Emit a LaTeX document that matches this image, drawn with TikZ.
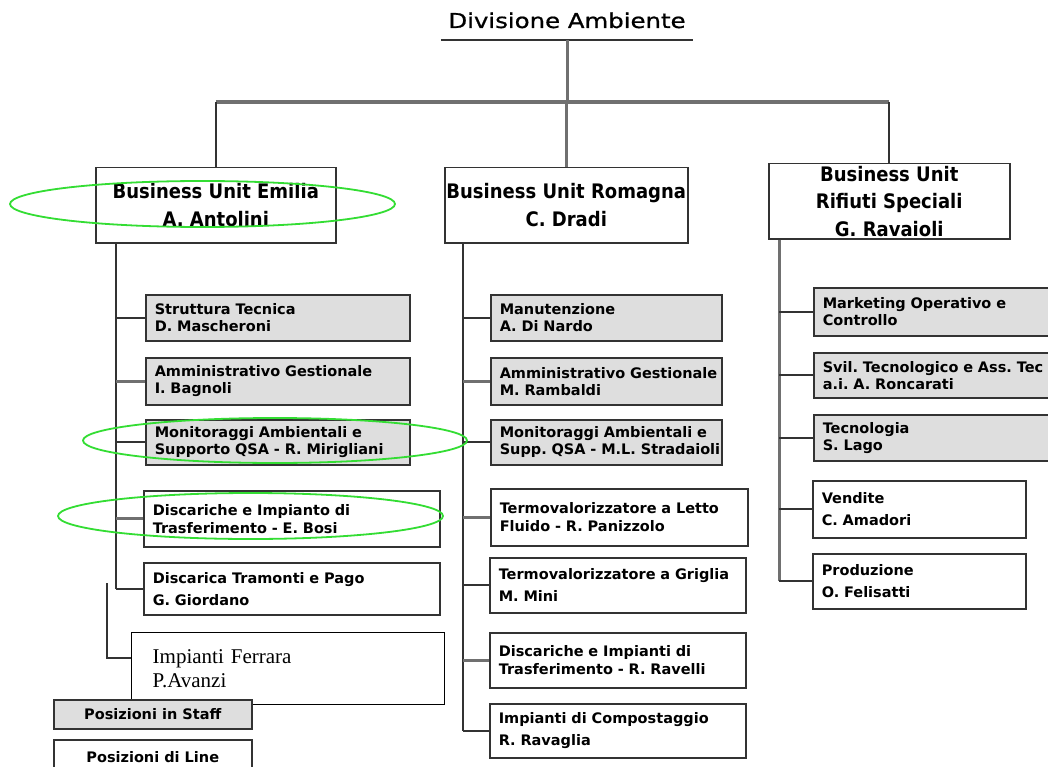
\documentclass[tikz,border=0pt]{standalone}
\usepackage{fontspec}
\usetikzlibrary{shadows}
\newfontfamily\dv{DejaVu Sans}
\newfontfamily\dvwide[FakeStretch=1.19,FakeBold=0.8]{DejaVu Sans}
\newfontfamily\dvnarrow[FakeStretch=0.9]{DejaVu Sans}
\newfontfamily\tms{Liberation Serif}
\newcommand\nbx[1]{\mbox{#1}}
\frenchspacing
\definecolor{bord}{HTML}{333333}
\definecolor{shad}{HTML}{6A6A6A}
\definecolor{stfill}{HTML}{DEDEDE}
\definecolor{lgray}{HTML}{707070}
\definecolor{hlgreen}{HTML}{33DD33}
\newcommand\obox[7]{\pgfmathsetmacro\tw{#5-18}\node[#2, minimum width=#5pt, minimum height=#6pt, text width=\tw pt] (#1) at (#3,#4) {#7};}
\begin{document}
\begin{tikzpicture}[x=1pt,y=-1pt,
  shd/.style={drop shadow={shadow xshift=1.6pt, shadow yshift=-1.6pt, fill=shad, opacity=1}},
  bx/.style={rectangle, draw=bord, line width=1.5pt, anchor=north west, inner xsep=9pt, inner ysep=0pt, align=left, shd},
  stf/.style={bx, fill=stfill, font=\dv\bfseries\fontsize{14.5}{17}\selectfont},
  lin/.style={bx, fill=white, font=\dv\bfseries\fontsize{14.5}{22}\selectfont},
  lint/.style={bx, fill=white, font=\dv\bfseries\fontsize{14.5}{18}\selectfont},
  bu/.style={rectangle, draw=bord, line width=1.5pt, fill=white, anchor=north west, align=center, inner sep=0pt, font=\dvnarrow\bfseries\fontsize{20}{27.5}\selectfont, shd},
  conn/.style={draw=bord, line width=2pt},
  conng/.style={draw=lgray, line width=2.6pt},
  hl/.style={draw=hlgreen, line width=1.8pt}]
\useasboundingbox (0,0) rectangle (1048,767);
\clip (0,0) rectangle (1048,767);
\fill[white] (0,0) rectangle (1048,767);

% title
\node[font=\dvwide\fontsize{20.5}{24}\selectfont, anchor=base, inner sep=0pt, minimum width=252pt] (title) at (567,28) {Divisione Ambiente};

% business units
\node[bu, minimum width=240pt, minimum height=75pt] (bu1) at (95,167) {Business Unit Emilia\\A. Antolini};
\node[bu, minimum width=243pt, minimum height=75pt] (bu2) at (444,167) {Business Unit Romagna\\C. Dradi};
\node[bu, minimum width=241pt, minimum height=75pt] (bu3) at (768,163) {Business Unit\\Rifiuti Speciali\\G. Ravaioli};

% left column
\obox{s1}{stf}{145}{294}{264}{46}{\nbx{Struttura Tecnica}\\\nbx{D. Mascheroni}}
\obox{s2}{stf}{145}{357}{264}{47}{\nbx{Amministrativo Gestionale}\\\nbx{I. Bagnoli}}
\obox{s3}{stf}{145}{419}{264}{45}{\nbx{Monitoraggi Ambientali e}\\\nbx{Supporto QSA - R. Mirigliani}}
\obox{l1}{lint}{143}{490}{296}{56}{\nbx{Discariche e Impianto di}\\\nbx{Trasferimento - E. Bosi}}
\obox{l2}{lin}{143}{562}{296}{52}{\nbx{Discarica Tramonti e Pago}\\\nbx{G. Giordano}}
\node[rectangle, draw=black, line width=1.4pt, fill=white, anchor=north west, minimum width=313pt, minimum height=72pt, text width=271pt, inner xsep=21pt, inner ysep=0pt, align=left, font=\tms\fontsize{21}{24}\selectfont] (fer) at (131,632) {Impianti Ferrara\\P.Avanzi};

% legend
\node[stf, align=center, minimum width=198pt, minimum height=29pt] (leg1) at (53,699) {Posizioni in Staff};
\node[bx, fill=white, font=\dv\bfseries\fontsize{14.5}{17}\selectfont, align=center, minimum width=198pt, minimum height=34pt] (leg2) at (53,739) {Posizioni di Line};

% middle column
\obox{m1}{stf}{490}{294}{231}{46}{\nbx{Manutenzione}\\\nbx{A. Di Nardo}}
\obox{m2}{stf}{490}{357}{231}{47}{\nbx{Amministrativo Gestionale}\\\nbx{M. Rambaldi}}
\obox{m3}{stf}{490}{419}{231}{45}{\nbx{Monitoraggi Ambientali e}\\\nbx{Supp. QSA - M.L. Stradaioli}}
\obox{m4}{lint}{490}{488}{257}{57}{\nbx{Termovalorizzatore a Letto}\\\nbx{Fluido - R. Panizzolo}}
\obox{m5}{lin}{489}{557}{256}{55}{\nbx{Termovalorizzatore a Griglia}\\\nbx{M. Mini}}
\obox{m6}{lint}{489}{632}{256}{55}{\nbx{Discariche e Impianti di}\\\nbx{Trasferimento - R. Ravelli}}
\obox{m7}{lin}{489}{703}{256}{54}{\nbx{Impianti di Compostaggio}\\\nbx{R. Ravaglia}}

% right column
\obox{r1}{stf}{813}{287}{250}{48}{\nbx{Marketing Operativo e}\\\nbx{Controllo}}
\obox{r2}{stf}{813}{352}{250}{45}{\nbx{Svil. Tecnologico e Ass. Tec}\\\nbx{a.i. A. Roncarati}}
\obox{r3}{stf}{813}{414}{250}{46}{\nbx{Tecnologia}\\\nbx{S. Lago}}
\obox{r4}{lin}{812}{480}{213}{57}{\nbx{Vendite}\\\nbx{C. Amadori}}
\obox{r5}{lin}{812}{553}{213}{55}{\nbx{Produzione}\\\nbx{O. Felisatti}}

% top connectors
\coordinate (ulL) at ([yshift=-12pt]title.base west);
\coordinate (ulR) at ([yshift=-12pt]title.base east);
\coordinate (ulM) at ([yshift=-12pt]title.base);
\coordinate (hub) at (566,102);
\draw[conn] (ulL) -- (ulR);
\draw[draw=lgray, line width=3pt] (ulM) -- (ulM |- hub);
\draw[draw=lgray, line width=4pt] (bu1.north |- hub) -- (bu3.north |- hub);
\draw[conn] (bu1.north |- hub) -- (bu1.north);
\draw[draw=lgray, line width=2.6pt] (bu2.north |- hub) -- (bu2.north);
\draw[conn] (bu3.north |- hub) -- (bu3.north);

% left spine
\coordinate (spL) at (116,0);
\draw[conn] (bu1.south -| spL) -- (l2.west -| spL);
\draw[conn] (s1.west -| spL) -- (s1.west);
\draw[conng] (s2.west -| spL) -- (s2.west);
\draw[conn] (s3.west -| spL) -- (s3.west);
\draw[conng] (l1.west -| spL) -- (l1.west);
\draw[conn] (l2.west -| spL) -- (l2.west);
\coordinate (fe0) at (107,583);
\draw[draw=bord, line width=1.6pt] (fe0) |- ([yshift=11pt]fer.west);

% middle spine
\coordinate (spM) at (463,0);
\draw[conn] (bu2.south -| spM) -- (m7.west -| spM);
\draw[conn] (m1.west -| spM) -- (m1.west);
\draw[conng] (m2.west -| spM) -- (m2.west);
\draw[conn] (m3.west -| spM) -- (m3.west);
\draw[conng] (m4.west -| spM) -- (m4.west);
\draw[conn] (m5.west -| spM) -- (m5.west);
\draw[conng] (m6.west -| spM) -- (m6.west);
\draw[conn] (m7.west -| spM) -- (m7.west);

% right spine
\coordinate (spR) at (779,0);
\draw[draw=lgray, line width=3pt] (bu3.south -| spR) -- (r5.west -| spR);
\foreach \n in {r1,r2,r3,r4,r5} \draw[conn] (\n.west -| spR) -- (\n.west);

% highlight ellipses
\draw[hl] (202.5,204) ellipse [x radius=192.5, y radius=23];
\draw[hl] (275,440.5) ellipse [x radius=192, y radius=22.5];
\draw[hl] (250.5,516) ellipse [x radius=192.5, y radius=23];
\end{tikzpicture}
\end{document}
